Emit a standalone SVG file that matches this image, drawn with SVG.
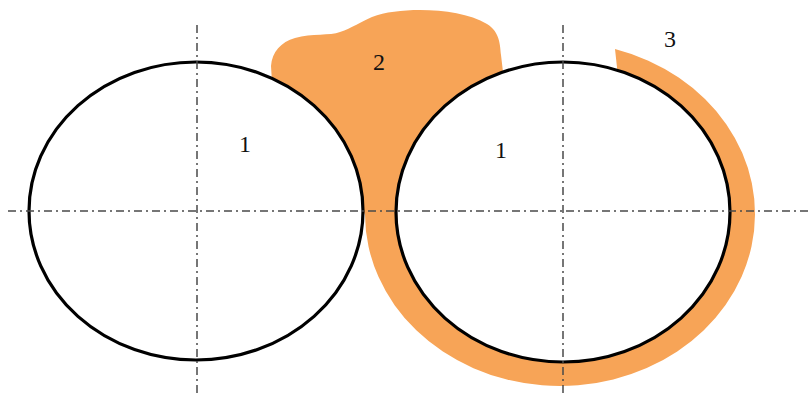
<svg xmlns="http://www.w3.org/2000/svg" width="812" height="394" viewBox="0 0 812 394">
  <style>
    .layer { fill: #F7A457; stroke: none; }
    .tube { fill: #FFFFFF; stroke: #000000; stroke-width: 3.2; }
    .axis { fill: none; stroke: #4A4A4A; stroke-width: 1.5; stroke-dasharray: 8 4 2 4; }
    .lbl { font-family: "Liberation Serif", "DejaVu Serif", serif; font-size: 24px; fill: #111111; text-anchor: middle; }
  </style>
  <rect width="812" height="394" fill="#FFFFFF"/>
  <g id="layers">
    <path class="layer" d="M 615,49 A 195 172 0 1 1 365,215 L 355,190 L 300,110 L 272,82 L 271,66 C 272,52 281,42 295,38 C 312,33 330,36 340,32 C 352,28 360,22 372,17 C 385,12 402,10 420,10 C 445,10 470,14 487,24 C 500,32 500,45 501,55 L 503,72 L 505,95 L 600,95 L 620,95 Z"/>
  </g>
  <g id="tube-left">
    <ellipse class="tube" cx="196" cy="211" rx="167" ry="149"/>
  </g>
  <g id="tube-right">
    <ellipse class="tube" cx="563" cy="212" rx="167" ry="150"/>
  </g>
  <g id="connectors">
    <line class="axis" x1="8" y1="211" x2="812" y2="211"/>
    <line class="axis" x1="197" y1="25" x2="197" y2="394"/>
    <line class="axis" x1="563" y1="25" x2="563" y2="394"/>
  </g>
  <g id="labels">
    <text class="lbl" x="245" y="152">1</text>
    <text class="lbl" x="501" y="158">1</text>
    <text class="lbl" x="379" y="70">2</text>
    <text class="lbl" x="670" y="47">3</text>
  </g>
</svg>
